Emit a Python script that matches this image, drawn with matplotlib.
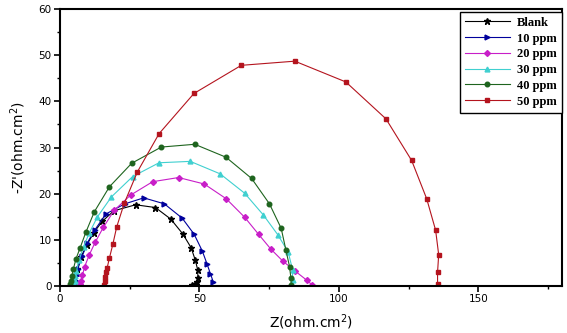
import matplotlib
matplotlib.use('Agg')
import matplotlib.pyplot as plt
from matplotlib.ticker import MultipleLocator

# Nyquist data (Z' , -Z'')
blank_x = [4.8, 5.0, 5.3, 6.0, 7.4, 9.6, 12.0, 15.1, 19.3, 27.1, 34.2, 39.7, 44.0, 47.0, 48.5, 49.4, 49.4, 49.2, 48.3, 47.3]
blank_y = [0.4, 1.2, 2.3, 3.6, 6.2, 8.9, 11.5, 14.0, 16.3, 17.6, 17.0, 14.5, 11.3, 8.3, 5.6, 3.4, 1.8, 0.9, 0.5, 0.3]

ppm10_x = [5.6, 5.8, 6.0, 6.4, 7.9, 9.8, 12.4, 16.4, 23.2, 30.0, 37.4, 43.8, 48.1, 51.0, 52.7, 53.9, 55.0]
ppm10_y = [0.4, 1.2, 2.3, 3.8, 6.4, 9.4, 12.1, 15.6, 17.8, 19.1, 17.8, 14.7, 11.2, 7.6, 4.8, 2.7, 0.8]

ppm20_x = [7.2, 7.5, 8.0, 8.8, 10.5, 12.6, 15.5, 19.4, 25.3, 33.2, 42.5, 51.7, 59.6, 66.2, 71.2, 75.6, 79.9, 84.2, 88.4, 90.5]
ppm20_y = [0.4, 1.2, 2.3, 4.2, 6.8, 9.5, 12.7, 16.4, 19.7, 22.6, 23.5, 22.1, 18.9, 14.9, 11.2, 8.0, 5.4, 3.3, 1.3, 0.2]

ppm30_x = [5.0, 5.2, 5.5, 5.8, 6.8, 8.4, 10.4, 13.4, 18.4, 26.0, 35.5, 46.7, 57.4, 66.2, 72.9, 78.1, 81.8, 83.4, 83.4, 83.3]
ppm30_y = [0.4, 1.2, 2.2, 3.2, 5.6, 8.5, 11.4, 15.0, 19.3, 23.7, 26.7, 27.0, 24.3, 20.1, 15.4, 11.1, 7.4, 3.5, 1.4, 0.3]

ppm40_x = [3.6, 3.9, 4.2, 4.8, 5.7, 7.2, 9.2, 12.3, 17.7, 25.7, 36.3, 48.3, 59.5, 68.7, 75.1, 79.3, 81.0, 82.3, 82.8, 82.9]
ppm40_y = [0.5, 1.2, 2.2, 3.8, 5.9, 8.3, 11.6, 16.1, 21.5, 26.6, 30.1, 30.7, 27.9, 23.3, 17.8, 12.5, 7.8, 4.2, 1.7, 0.3]

ppm50_x = [15.9, 16.0, 16.2, 16.5, 16.9, 17.7, 18.9, 20.3, 23.0, 27.7, 35.5, 48.0, 65.0, 84.2, 102.5, 116.9, 126.1, 131.5, 134.7, 135.8, 135.4, 135.4]
ppm50_y = [0.3, 1.0, 2.0, 3.0, 4.0, 6.1, 9.0, 12.8, 17.9, 24.7, 33.0, 41.7, 47.8, 48.7, 44.2, 36.2, 27.2, 18.9, 12.1, 6.8, 3.0, 0.4]

labels = ['Blank', '10 ppm', '20 ppm', '30 ppm', '40 ppm', '50 ppm']

fig = plt.figure(figsize=(5.67, 3.33), dpi=100)
ax = fig.add_axes([0.106, 0.141, 0.885, 0.832])

ax.plot(blank_x, blank_y, color='black', marker='*', ms=4.5, lw=0.8, label=labels[0])
ax.plot(ppm10_x, ppm10_y, color='#00009c', marker='>', ms=3.5, lw=0.8, label=labels[1])
ax.plot(ppm20_x, ppm20_y, color='#c81ec8', marker='D', ms=3, lw=0.8, label=labels[2])
ax.plot(ppm30_x, ppm30_y, color='#40d0d0', marker='^', ms=3.5, lw=0.8, label=labels[3])
ax.plot(ppm40_x, ppm40_y, color='#1e641e', marker='o', ms=3.3, lw=0.8, label=labels[4])
ax.plot(ppm50_x, ppm50_y, color='#b4141e', marker='s', ms=3.3, lw=0.8, label=labels[5])

ax.set_xlim(0, 180)
ax.set_ylim(0, 60)
ax.xaxis.set_major_locator(MultipleLocator(50))
ax.xaxis.set_minor_locator(MultipleLocator(25))
ax.yaxis.set_major_locator(MultipleLocator(10))
ax.yaxis.set_minor_locator(MultipleLocator(5))
ax.tick_params(which='major', direction='out', length=4, width=1.2, labelsize=7.5, pad=2)
ax.tick_params(which='minor', direction='out', length=2.5, width=1.0)
for sp in ax.spines.values():
    sp.set_linewidth(1.5)

ax.set_xlabel('Z(ohm.cm$^2$)', fontsize=10, labelpad=6)
ax.set_ylabel("-Z'(ohm.cm$^2$)", fontsize=10, labelpad=8)

leg = ax.legend(loc='upper right', bbox_to_anchor=(1.0, 0.99), borderaxespad=0,
                fancybox=False, framealpha=1, edgecolor='black', handlelength=3.6,
                labelspacing=0.3, borderpad=0.4, handletextpad=0.6,
                prop={'family': 'Liberation Serif', 'weight': 'bold', 'size': 9})
leg.get_frame().set_linewidth(1.0)

plt.savefig('out.png', dpi=100)
